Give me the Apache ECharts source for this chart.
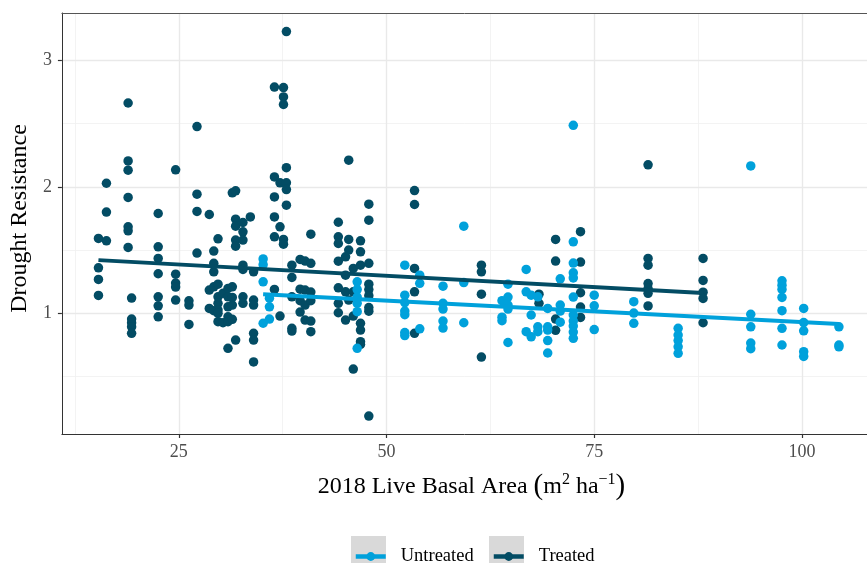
<!DOCTYPE html>
<html><head><meta charset="utf-8">
<script src="https://cdn.jsdelivr.net/npm/echarts@6/dist/echarts.min.js"></script>
<style>html,body{margin:0;padding:0;background:#fff}#c{width:867px;height:563px}</style>
</head><body><div id="c"></div>
<script>
// 2018 live basal area (m2/ha) vs drought resistance
const treated = [
 [15.33,1.592],[15.33,1.36],[15.33,1.268],[15.33,1.142],
 [16.29,2.028],[16.29,1.8],[16.29,1.573],
 [18.9,2.662],[18.9,2.204],[18.9,2.131],[18.9,1.916],[18.9,1.684],[18.9,1.652],[18.9,1.521],
 [19.32,1.121],[19.32,0.955],[19.32,0.926],[19.32,0.894],[19.32,0.842],
 [22.52,1.789],[22.52,1.526],[22.52,1.434],[22.52,1.313],[22.52,1.131],[22.52,1.06],[22.52,0.973],
 [24.62,2.134],[24.62,1.31],[24.62,1.239],[24.62,1.208],[24.62,1.105],
 [26.22,1.099],[26.22,1.066],[26.22,0.913],
 [27.19,2.476],[27.19,1.942],[27.19,1.805],[27.19,1.476],
 [28.67,1.781],[28.67,1.184],[28.67,1.039],
 [29.21,1.492],[29.21,1.395],[29.21,1.328],[29.21,1.21],[29.21,1.021],
 [29.72,1.589],[29.72,1.231],[29.72,1.131],[29.72,1.079],[29.72,1.026],[29.72,1.0],[29.72,0.934],
 [30.32,1.158],[30.32,0.926],
 [30.92,1.197],[30.92,1.131],[30.92,1.052],[30.92,0.973],[30.92,0.934],[30.92,0.724],
 [31.44,1.952],[31.44,1.21],[31.44,1.126],[31.44,1.066],[31.44,0.953],
 [31.84,1.968],[31.84,1.744],[31.84,1.689],[31.84,1.579],[31.84,1.531],[31.84,0.789],
 [32.72,1.718],[32.72,1.644],[32.72,1.579],[32.72,1.381],[32.72,1.347],[32.72,1.131],[32.72,1.079],
 [33.61,1.762],
 [34.0,1.328],[34.0,1.105],[34.0,1.066],[34.0,0.842],[34.0,0.789],[34.0,0.616],
 [36.51,2.788],[36.51,2.078],[36.51,1.92],[36.51,1.762],[36.51,1.605],[36.51,1.189],
 [37.18,2.031],[37.18,1.684],[37.18,0.979],
 [37.6,2.784],[37.6,2.71],[37.6,2.65],[37.6,1.584],[37.6,1.547],
 [37.95,3.226],[37.95,2.151],[37.95,2.031],[37.95,1.978],[37.95,1.855],
 [38.61,1.381],[38.61,1.284],[38.61,1.131],[38.61,0.882],[38.61,0.86],
 [39.6,1.426],[39.6,1.191],[39.6,1.1],[39.6,1.01],
 [40.2,1.413],[40.2,1.184],[40.2,1.066],[40.2,0.947],
 [40.89,1.626],[40.89,1.395],[40.89,1.168],[40.89,1.1],[40.89,0.939],[40.89,0.855],
 [44.2,1.72],[44.2,1.605],[44.2,1.552],[44.2,1.412],[44.2,1.202],[44.2,1.079],[44.2,1.005],
 [45.07,1.447],[45.07,1.302],[45.07,1.17],[45.07,0.947],
 [45.45,2.21],[45.45,1.584],[45.45,1.5],[45.45,1.105],
 [46.0,1.355],[46.0,1.17],[46.0,0.979],[46.0,0.56],
 [46.87,1.573],[46.87,1.486],[46.87,1.381],[46.87,0.921],[46.87,0.868],[46.87,0.776],[46.87,0.754],
 [47.87,1.863],[47.87,1.736],[47.87,1.395],[47.87,1.231],[47.87,1.188],[47.87,1.14],[47.87,1.046],[47.87,1.017],[47.87,0.189],
 [53.37,1.97],[53.37,1.86],[53.37,1.355],[53.37,1.17],[53.37,0.842],
 [61.42,1.381],[61.42,1.328],[61.42,1.152],[61.42,0.655],
 [68.35,1.152],[68.35,1.079],
 [70.35,1.584],[70.35,1.413],[70.35,0.955],[70.35,0.866],
 [73.35,1.645],[73.35,1.405],[73.35,1.163],[73.35,1.05],[73.35,0.968],
 [81.48,2.174],[81.48,1.434],[81.48,1.381],[81.48,1.235],[81.48,1.196],[81.48,1.158],[81.48,1.059],
 [88.1,1.434],[88.1,1.26],[88.1,1.167],[88.1,1.118],[88.1,0.926]
];
const untreated = [
 [35.15,1.43],[35.15,1.385],[35.15,1.249],[35.15,0.922],
 [35.91,1.12],[35.91,1.052],[35.91,0.955],
 [46.47,1.249],[46.47,1.188],[46.47,1.129],[46.47,1.079],[46.47,1.013],[46.47,0.724],
 [52.2,1.381],[52.2,1.144],[52.2,1.085],[52.2,1.018],[52.2,0.99],[52.2,0.849],[52.2,0.825],
 [54.0,1.302],[54.0,1.237],[54.0,0.878],
 [56.8,1.215],[56.8,1.079],[56.8,1.034],[56.8,0.939],[56.8,0.884],
 [59.3,1.689],[59.3,1.243],[59.3,0.926],
 [63.9,1.1],[63.9,0.97],[63.9,0.942],
 [64.62,1.231],[64.62,1.129],[64.62,1.066],[64.62,1.034],[64.62,0.77],
 [66.81,1.347],[66.81,1.17],[66.81,0.855],
 [67.41,1.144],[67.41,0.987],[67.41,0.815],
 [68.21,1.131],[68.21,0.894],[68.21,0.855],
 [69.4,1.039],[69.4,0.894],[69.4,0.868],[69.4,0.785],[69.4,0.687],
 [70.91,1.273],[70.91,1.066],[70.91,1.018],[70.91,0.93],
 [72.48,2.486],[72.48,1.565],[72.48,1.397],[72.48,1.32],[72.48,1.28],[72.48,1.129],[72.48,0.987],[72.48,0.939],[72.48,0.9],[72.48,0.852],[72.48,0.803],
 [75.0,1.144],[75.0,1.06],[75.0,0.872],
 [79.76,1.092],[79.76,1.002],[79.76,0.921],
 [85.1,0.882],[85.1,0.829],[85.1,0.785],[85.1,0.736],[85.1,0.684],
 [93.84,2.165],[93.84,0.993],[93.84,0.894],[93.84,0.766],[93.84,0.721],
 [97.6,1.257],[97.6,1.223],[97.6,1.189],[97.6,1.126],[97.6,1.021],[97.6,0.882],[97.6,0.75],
 [100.21,1.039],[100.21,0.927],[100.21,0.862],[100.21,0.697],[100.21,0.66],
 [104.45,0.894],[104.45,0.75],[104.45,0.736]
];
const treatedFit = [[15.33,1.421],[88.1,1.161]];
const untreatedFit = [[35.15,1.151],[104.45,0.916]];
const xTicks = [25,50,75,100];
const xMinor = [12.5,37.5,62.5,87.5];
const yTicks = [1,2,3];
const yMinor = [0.5,1.5,2.5];
const groupNames = ['Untreated','Treated'];
const xTitle = '2018 Live Basal Area {p|(}m{sup|2} ha{sup|\u22121}{p|)}';
const yTitle = 'Drought Resistance';

const colU = '#00a1db', colT = '#034c64';
const serif = '"Liberation Serif","DejaVu Serif",serif';
const X_MIN = 10.93, X_MAX = 107.83, Y_MIN = 0.047, Y_MAX = 3.373;

const gridLines = [].concat(
  xMinor.map(v => ({xAxis: v, lineStyle: {width: 0.8, color: '#f0f0f0', type: 'solid'}})),
  yMinor.map(v => ({yAxis: v, lineStyle: {width: 0.8, color: '#f0f0f0', type: 'solid'}})),
  xTicks.map(v => ({xAxis: v, lineStyle: {width: 1.4, color: '#e9e9e9', type: 'solid'}})),
  yTicks.map(v => ({yAxis: v, lineStyle: {width: 1.4, color: '#e9e9e9', type: 'solid'}}))
);

const chart = echarts.init(document.getElementById('c'), null, {renderer: 'canvas'});
chart.setOption({
  animation: false,
  backgroundColor: '#fff',
  grid: {left: 58, top: 13, right: 0, bottom: 129, show: false},
  xAxis: [{
    type: 'value', min: X_MIN, max: X_MAX,
    name: xTitle, nameLocation: 'middle', nameGap: 38,
    nameTextStyle: {fontFamily: serif, fontSize: 24, color: '#000', padding: [0, 0, 0, 14],
      rich: {p: {fontFamily: serif, fontSize: 29, color: '#000'}, sup: {fontFamily: serif, fontSize: 16, color: '#000', verticalAlign: 'top'}}},
    axisLine: {show: true, onZero: false, lineStyle: {color: '#333', width: 1}},
    axisTick: {show: true, length: 4, customValues: xTicks, lineStyle: {color: '#333', width: 1.2}},
    axisLabel: {customValues: xTicks, fontFamily: serif, fontSize: 18, color: '#4d4d4d', margin: 9},
    splitLine: {show: false}, minorSplitLine: {show: false}
  }, {
    type: 'value', position: 'top', min: X_MIN, max: X_MAX,
    axisLine: {show: true, onZero: false, lineStyle: {color: '#555', width: 1}},
    axisTick: {show: false}, axisLabel: {show: false}, splitLine: {show: false}
  }],
  yAxis: {
    type: 'value', min: Y_MIN, max: Y_MAX,
    name: yTitle, nameLocation: 'middle', nameGap: 28,
    nameTextStyle: {fontFamily: serif, fontSize: 24, color: '#000', padding: [0, 0, 0, 10]},
    axisLine: {show: true, onZero: false, lineStyle: {color: '#333', width: 1}},
    axisTick: {show: true, length: 4, customValues: yTicks, lineStyle: {color: '#333', width: 1.2}},
    axisLabel: {customValues: yTicks, fontFamily: serif, fontSize: 18, color: '#4d4d4d', margin: 10},
    splitLine: {show: false}, minorSplitLine: {show: false}
  },
  graphic: [
    {type: 'rect', z: 1, silent: true, shape: {x: 351, y: 536, width: 35, height: 35}, style: {fill: '#d9d9d9'}},
    {type: 'rect', z: 1, silent: true, shape: {x: 489, y: 536, width: 35, height: 35}, style: {fill: '#d9d9d9'}}
  ],
  legend: [
    {data: [groupNames[0]], left: 353.5, top: 547, padding: 0, itemWidth: 30, itemHeight: 11,
     lineStyle: {width: 4.5}, z: 5,
     formatter: n => '{g| }' + n,
     textStyle: {fontFamily: serif, fontSize: 18.5, color: '#000', rich: {g: {width: 10}}}},
    {data: [groupNames[1]], left: 491.5, top: 547, padding: 0, itemWidth: 30, itemHeight: 11,
     lineStyle: {width: 4.5}, z: 5,
     formatter: n => '{g| }' + n,
     textStyle: {fontFamily: serif, fontSize: 18.5, color: '#000', rich: {g: {width: 10}}}}
  ],
  series: [
    {name: groupNames[0], type: 'line', data: untreatedFit, symbol: 'circle', showSymbol: false, z: 4,
     itemStyle: {color: colU}, lineStyle: {color: colU, width: 3.8}},
    {name: groupNames[1], type: 'line', data: treatedFit, symbol: 'circle', showSymbol: false, z: 4,
     itemStyle: {color: colT}, lineStyle: {color: colT, width: 3.8}},
    {name: 'gridlines', type: 'scatter', data: [], z: 0, silent: true,
     markLine: {silent: true, z: 0, symbol: ['none','none'], label: {show: false}, animation: false, data: gridLines}},
    {name: groupNames[1], type: 'scatter', data: treated, symbolSize: 9.5, z: 2,
     itemStyle: {color: colT, opacity: 1}},
    {name: groupNames[0], type: 'scatter', data: untreated, symbolSize: 9.5, z: 2,
     itemStyle: {color: colU, opacity: 1}}
  ]
});
</script>
</body></html>
